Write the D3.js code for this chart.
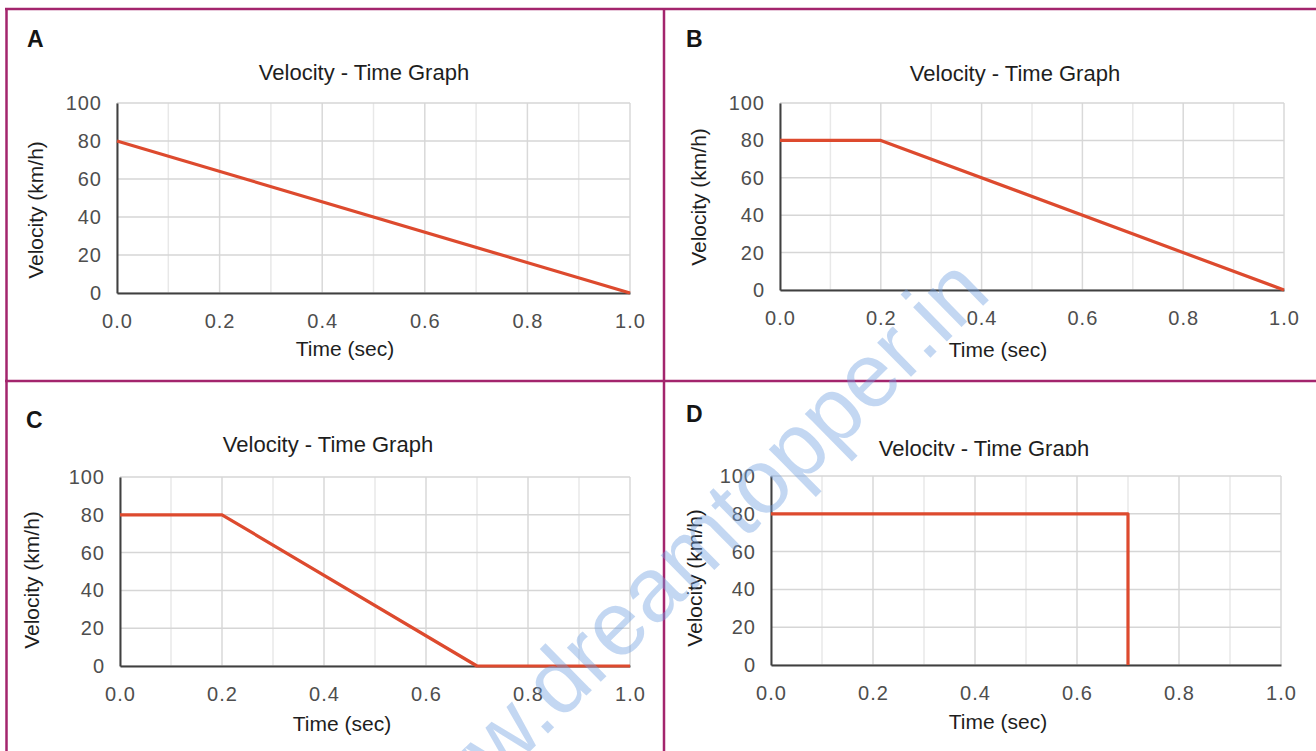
<!DOCTYPE html>
<html>
<head>
<meta charset="utf-8">
<script src="https://cdn.jsdelivr.net/npm/d3@7"></script>
<style>
  body { margin: 0; background: #fff; }
  text { font-family: "Liberation Sans", Arial, sans-serif; }
</style>
</head>
<body>
<svg id="chart"></svg>
<script>
let w = 1316;
let h = 751;

// data (time in sec, velocity in km/h)
let panelNames = ["A", "B", "C", "D"];
let timesA = [0.0, 1.0];
let velA = [80, 0];
let timesB = [0.0, 0.2, 1.0];
let velB = [80, 80, 0];
let timesC = [0.0, 0.2, 0.7, 1.0];
let velC = [80, 80, 0, 0];
let timesD = [0.0, 0.7, 0.7];
let velD = [80, 80, 0];

let xTicks = [0.0, 0.2, 0.4, 0.6, 0.8, 1.0];
let xMinor = [0.1, 0.3, 0.5, 0.7, 0.9];
let yTicks = [0, 20, 40, 60, 80, 100];

let chartTitle = "Velocity - Time Graph";
let xTitle = "Time (sec)";
let yTitle = "Velocity (km/h)";
let watermark = "www.dreamtopper.in";

// where each panel sits on the page
let layout = [
  {x0: 117, x1: 630, yb: 293, yt: 103, tx: 364, ty: 80, lx: 27, ly: 47, vx: 43, vy: 210, hx: 345, hy: 356},
  {x0: 780, x1: 1284, yb: 290, yt: 103, tx: 1015, ty: 81, lx: 686, ly: 47, vx: 706, vy: 197, hx: 998, hy: 357},
  {x0: 120, x1: 630, yb: 666, yt: 477, tx: 328, ty: 452, lx: 26, ly: 428, vx: 39, vy: 580, hx: 342, hy: 731},
  {x0: 771, x1: 1281, yb: 665, yt: 476, tx: 984, ty: 456, lx: 686, ly: 422, vx: 702, vy: 578, hx: 998, hy: 729, clipTitle: true}
];

let series = [
  d3.zip(timesA, velA),
  d3.zip(timesB, velB),
  d3.zip(timesC, velC),
  d3.zip(timesD, velD)
];

let svg = d3.select("#chart")
  .attr("width", w)
  .attr("height", h);

let defs = svg.append("defs");

function drawPanel(i) {
  let L = layout[i];
  let g = svg.append("g");

  let xScale = d3.scaleLinear().domain([0, 1]).range([L.x0, L.x1]);
  let yScale = d3.scaleLinear().domain([0, 100]).range([L.yb, L.yt]);

  // grid
  g.selectAll(".vminor")
    .data(xMinor)
    .enter()
    .append("line")
    .attr("x1", (d) => xScale(d)).attr("x2", (d) => xScale(d))
    .attr("y1", L.yt).attr("y2", L.yb)
    .attr("stroke", "#e8e8e8").attr("stroke-width", 1.5);
  g.selectAll(".vmajor")
    .data(xTicks)
    .enter()
    .append("line")
    .attr("x1", (d) => xScale(d)).attr("x2", (d) => xScale(d))
    .attr("y1", L.yt).attr("y2", L.yb)
    .attr("stroke", "#d9d9d9").attr("stroke-width", 1.5);
  g.selectAll(".hgrid")
    .data(yTicks)
    .enter()
    .append("line")
    .attr("x1", L.x0).attr("x2", L.x1)
    .attr("y1", (d) => yScale(d)).attr("y2", (d) => yScale(d))
    .attr("stroke", "#d6d6d6").attr("stroke-width", 1.5);

  // axes
  let xAxis = d3.axisBottom(xScale)
    .tickValues(xTicks)
    .tickFormat(d3.format(".1f"))
    .tickSize(0)
    .tickPadding(21);
  let yAxis = d3.axisLeft(yScale)
    .tickValues(yTicks)
    .tickSize(0)
    .tickPadding(15);

  let xg = g.append("g")
    .attr("transform", `translate(0,${L.yb})`)
    .call(xAxis);
  let yg = g.append("g")
    .attr("transform", `translate(${L.x0},0)`)
    .call(yAxis);

  [xg, yg].forEach((ax) => {
    ax.select(".domain").attr("stroke", "#404040").attr("stroke-width", 2);
    ax.selectAll("text")
      .attr("fill", "#4e4e4e")
      .style("font-size", "20px")
      .style("letter-spacing", "1px");
  });

  // the line
  let line = d3.line()
    .x((d) => xScale(d[0]))
    .y((d) => yScale(d[1]));
  g.append("path")
    .datum(series[i])
    .attr("d", line)
    .attr("fill", "none")
    .attr("stroke", "#dd4a2e")
    .attr("stroke-width", 3.2)
    .attr("stroke-linejoin", "round");

  // texts
  let title = g.append("text")
    .attr("x", L.tx).attr("y", L.ty)
    .attr("text-anchor", "middle")
    .attr("fill", "#1e1e1e")
    .style("font-size", "22px")
    .text(chartTitle);
  if (L.clipTitle) {
    defs.append("clipPath").attr("id", "clip" + i)
      .append("rect")
      .attr("x", L.tx - 200).attr("y", L.ty - 30)
      .attr("width", 400).attr("height", 30);
    title.attr("clip-path", `url(#clip${i})`);
  }

  g.append("text")
    .attr("x", L.hx).attr("y", L.hy)
    .attr("text-anchor", "middle")
    .attr("fill", "#1e1e1e")
    .style("font-size", "21px")
    .text(xTitle);

  g.append("text")
    .attr("transform", `translate(${L.vx},${L.vy}) rotate(-90)`)
    .attr("text-anchor", "middle")
    .attr("fill", "#1e1e1e")
    .style("font-size", "21px")
    .text(yTitle);

  g.append("text")
    .attr("x", L.lx).attr("y", L.ly)
    .attr("fill", "#151515")
    .style("font-size", "23px")
    .style("font-weight", "bold")
    .text(panelNames[i]);
}

panelNames.forEach((d, i) => drawPanel(i));

// frame
let frame = svg.append("g")
  .attr("stroke", "#a3256d")
  .attr("stroke-width", 2.5);
frame.append("line").attr("x1", 5).attr("x2", w).attr("y1", 9).attr("y2", 9);
frame.append("line").attr("x1", 6.5).attr("x2", 6.5).attr("y1", 8).attr("y2", h);
frame.append("line").attr("x1", 664).attr("x2", 664).attr("y1", 8).attr("y2", h);
frame.append("line").attr("x1", 5).attr("x2", w).attr("y1", 381).attr("y2", 381);

// watermark
svg.append("text")
  .attr("transform", "translate(405,874) rotate(-44.5)")
  .attr("fill", "#6f9fe0")
  .attr("fill-opacity", 0.42)
  .style("font-size", "91px")
  .text(watermark);
</script>
</body>
</html>
